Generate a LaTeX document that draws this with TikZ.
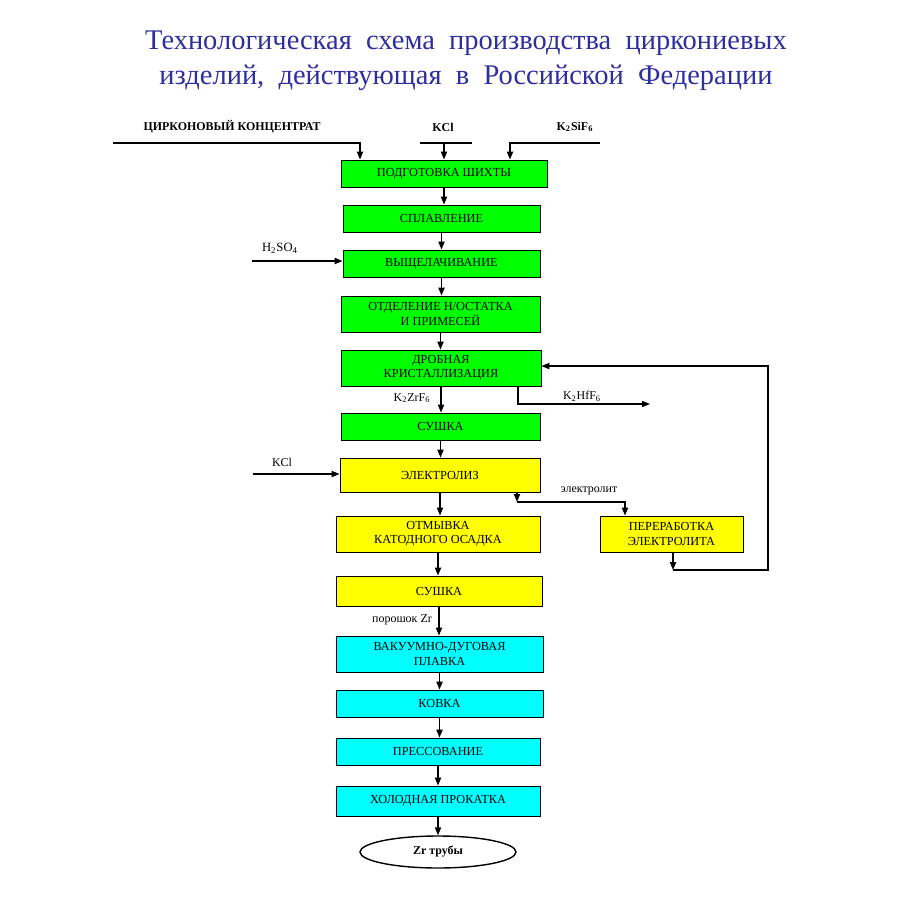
\documentclass[tikz,border=0pt]{standalone}
\usepackage{fontspec}
\setmainfont{Liberation Serif}
\usetikzlibrary{arrows.meta,positioning,shapes.geometric}
\definecolor{zgreen}{HTML}{00FF00}
\definecolor{zyellow}{HTML}{FFFF00}
\definecolor{zcyan}{HTML}{00FFFF}
\definecolor{ztitle}{HTML}{2E2E9E}

\begin{document}
\begin{tikzpicture}[
  x=0.2mm,y=-0.2mm,
  every node/.style={font=\fontsize{7}{8.2}\selectfont,inner sep=1pt},
  bx/.style={draw,line width=0.5pt,minimum width=4cm,minimum height=5.4mm,align=center},
  gbx/.style={bx,fill=zgreen},
  ybx/.style={bx,fill=zyellow},
  cbx/.style={bx,fill=zcyan},
  tall/.style={minimum height=7.2mm},
  lbl/.style={font=\fontsize{6.8}{8}\selectfont},
  inlbl/.style={font=\bfseries\fontsize{6.8}{8}\selectfont},
  title/.style={font=\fontsize{16.2}{19}\selectfont,text=ztitle},
  arrow/.style={-{Triangle[length=4.5pt,width=3.5pt]},line width=0.8pt}
]
\useasboundingbox (0,0) rectangle (900,900);

% title
\node[title] (title1) at (466,43) {Технологическая\ \ схема\ \ производства\ \ циркониевых};
\node[title] (title2) at (466,78) {изделий,\ \ действующая\ \ в\ \ Российской\ \ Федерации};

% input labels
\node[inlbl] (conc) at (232,127) {ЦИРКОНОВЫЙ КОНЦЕНТРАТ};
\node[inlbl] (kcl) at (443,127) {KCl};
\node[inlbl] (sif) at (575,127) {K\textsubscript{2}SiF\textsubscript{6}};

% process boxes
\node[gbx,minimum width=4.12cm] (mix) at (444,173.5) {ПОДГОТОВКА ШИХТЫ};
\node[gbx,minimum width=3.94cm] (melt) at (441.5,218.5) {СПЛАВЛЕНИЕ};
\node[gbx,minimum width=3.94cm] (leach) at (441.5,263.5) {ВЫЩЕЛАЧИВАНИЕ};
\node[gbx,tall,minimum width=3.98cm] (sep) at (440.5,314) {ОТДЕЛЕНИЕ Н/ОСТАТКА\\И ПРИМЕСЕЙ};
\node[gbx,tall] (cryst) at (441,368) {ДРОБНАЯ\\КРИСТАЛЛИЗАЦИЯ};
\node[gbx,minimum width=3.98cm] (dry1) at (440.5,426.5) {СУШКА};
\node[ybx,minimum height=6.8mm] (elys) at (440,475) {ЭЛЕКТРОЛИЗ};
\node[ybx,tall,minimum width=4.08cm] (wash) at (438,534) {ОТМЫВКА\\КАТОДНОГО ОСАДКА};
\node[ybx,tall,minimum width=2.86cm] (recyc) at (671.5,534) {ПЕРЕРАБОТКА\\ЭЛЕКТРОЛИТА};
\node[ybx,minimum height=6mm,minimum width=4.12cm] (dry2) at (439,591) {СУШКА};
\node[cbx,tall,minimum width=4.14cm] (arc) at (439.5,654) {ВАКУУМНО-ДУГОВАЯ\\ПЛАВКА};
\node[cbx,minimum width=4.14cm] (forge) at (439.5,703.5) {КОВКА};
\node[cbx,minimum width=4.08cm] (press) at (438,751.5) {ПРЕССОВАНИЕ};
\node[cbx,minimum height=6mm,minimum width=4.08cm] (roll) at (438,801) {ХОЛОДНАЯ ПРОКАТКА};
\node[draw,ellipse,line width=0.8pt,minimum width=3.12cm,minimum height=6.4mm,font=\bfseries\fontsize{6.8}{8}\selectfont] (tube) at (438,852) {Zr трубы};

% main chain
\foreach \a/\b in {mix/melt,melt/leach,leach/sep,sep/cryst,cryst/dry1,dry1/elys,elys/wash,wash/dry2,dry2/arc,arc/forge,forge/press,press/roll,roll/tube}
  \draw[arrow] (\a.south) -- (\a.south |- \b.north);

% feeds at the top
\coordinate (concL) at (113,143);
\coordinate (concB) at (360,143);
\draw[arrow] (concL) -- (concB) -- (concB |- mix.north);
\coordinate (kclL) at (420,143);
\coordinate (kclR) at (472,143);
\draw[line width=0.8pt] (kclL) -- (kclR);
\draw[arrow] (mix.north |- kclL) -- (mix.north);
\coordinate (sifR) at (600,143);
\coordinate (sifB) at (510,143);
\draw[arrow] (sifR) -- (sifB) -- (sifB |- mix.north);

% side feeds
\coordinate (acid) at (252,261);
\draw[arrow] (acid) -- (acid -| leach.west);
\node[lbl,font=\fontsize{7.2}{8.5}\selectfont] (acidlbl) at (280,248) {H\textsubscript{2}SO\textsubscript{4}};
\coordinate (kclS) at (253,474);
\draw[arrow] (kclS) -- (kclS -| elys.west);
\node[lbl] (kclSlbl) at (282,462) {KCl};

% hafnium salt out
\coordinate (hfB) at (518,404);
\coordinate (hfE) at (650,404);
\draw[line width=0.6pt,-{Triangle[length=4.5pt,width=3.5pt]}] (cryst.south -| hfB) -- (hfB) -- (hfE);
\node[lbl] (hflbl) at (582,396) {K\textsubscript{2}HfF\textsubscript{6}};
\node[lbl] (zrlbl) at (412,398) {K\textsubscript{2}ZrF\textsubscript{6}};

% electrolyte loop
\coordinate (elA) at (517,502);
\coordinate (elB) at (625,502);
\draw[arrow] (elys.south -| elA) -- (elA);
\draw[arrow] (elA) -- (elB) -- (elB |- recyc.north);
\node[lbl] (ellbl) at (589,491) {электролит};
\coordinate (loopA) at (673,570);
\coordinate (loopB) at (768,570);
\coordinate (loopC) at (768,366);
\draw[arrow] (recyc.south -| loopA) -- (loopA);
\draw[arrow] (loopA) -- (loopB) -- (loopC) -- (loopC -| cryst.east);

\node[lbl] (powlbl) at (402,620) {порошок Zr};
\end{tikzpicture}
\end{document}
